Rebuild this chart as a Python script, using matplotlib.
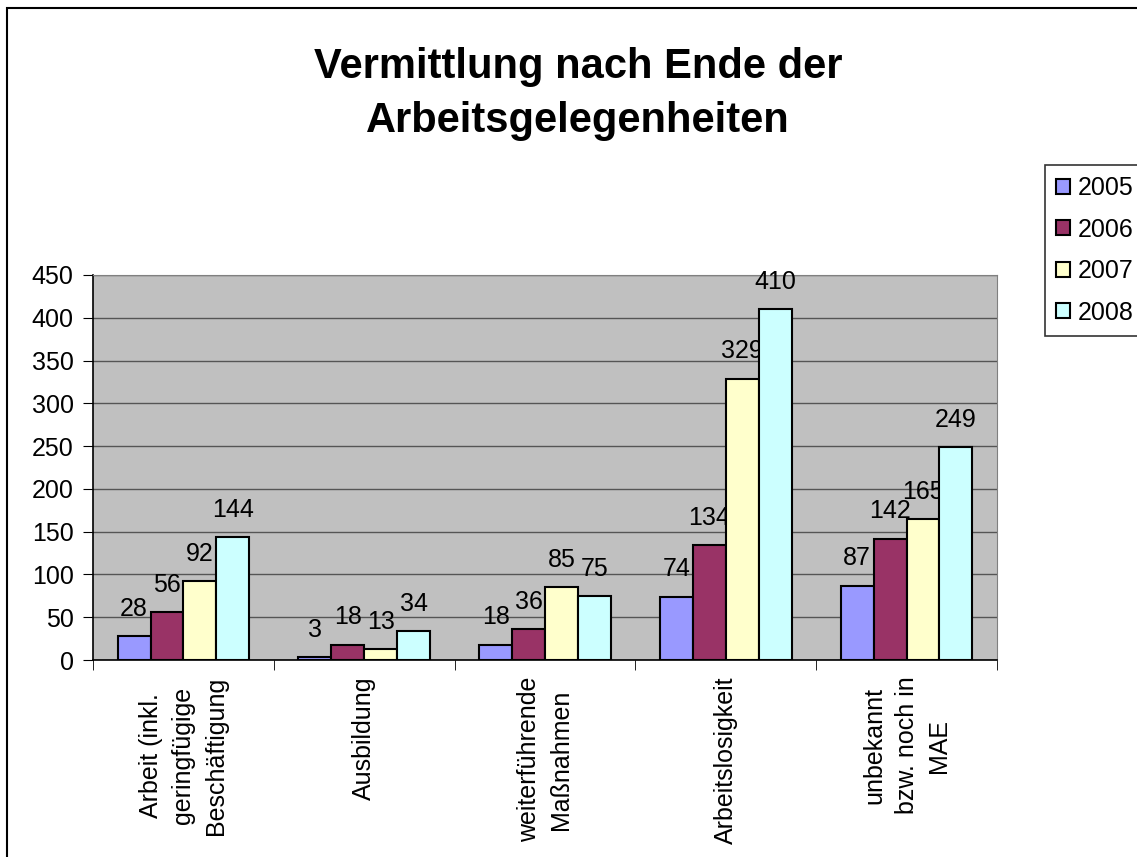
import numpy as np
import matplotlib.pyplot as plt
from matplotlib.patches import Rectangle

plt.rcParams['font.family'] = ['Liberation Sans', 'DejaVu Sans']

categories = ['Arbeit (inkl.\ngeringfügige\nBeschäftigung', 'Ausbildung',
              'weiterführende\nMaßnahmen', 'Arbeitslosigkeit',
              'unbekannt\nbzw. noch in\nMAE']
years = ['2005', '2006', '2007', '2008']
v2005 = [28, 3, 18, 74, 87]
v2006 = [56, 18, 36, 134, 142]
v2007 = [92, 13, 85, 329, 165]
v2008 = [144, 34, 75, 410, 249]
series = [v2005, v2006, v2007, v2008]
colors = ['#9999FF', '#993366', '#FFFFCC', '#CCFFFF']

W, H = 1137, 857
fig = plt.figure(figsize=(W / 100, H / 100), dpi=100)
ax = fig.add_axes([93 / W, 1 - 660 / H, (997 - 93) / W, (660 - 275) / H])

# outer chart frame (right/bottom cut off in the original)
fig.patches.append(Rectangle((7 / W, -0.1), 1.2, 1 - 8 / H + 0.1,
                             transform=fig.transFigure, fill=False,
                             edgecolor='black', linewidth=1.5))

x = np.arange(len(categories))
bw = 1 / 5.5
for i, (vals, c, yr) in enumerate(zip(series, colors, years)):
    pos = x - 2 * bw + (i + 0.5) * bw
    bars = ax.bar(pos, vals, bw, color=c, edgecolor='black', linewidth=1.5,
                  label=yr, zorder=3)
    for b, v in zip(bars, vals):
        ax.annotate(str(v), (b.get_x() + b.get_width() / 2, v),
                    xytext=(0, 11), textcoords='offset points',
                    ha='center', va='bottom', fontsize=18)

ax.set_facecolor('#C0C0C0')
ax.set_xlim(-0.5, len(categories) - 0.5)
ax.set_ylim(0, 450)
ax.set_yticks(range(0, 451, 50))
ax.yaxis.grid(True, color='#555555', linewidth=1, zorder=0)
ax.set_axisbelow(True)
ax.tick_params(axis='y', labelsize=18, length=7, direction='out', pad=7)

ax.set_xticks(x)
ax.set_xticklabels(categories, rotation=90, fontsize=18, ha='center',
                   va='top', multialignment='center', linespacing=1.45)
ax.tick_params(axis='x', which='major', length=0, pad=12)
ax.set_xticks(np.arange(-0.5, len(categories)), minor=True)
ax.tick_params(axis='x', which='minor', length=7, direction='out')

for s in ['top', 'right']:
    ax.spines[s].set_color('#808080')
for s in ['left', 'bottom']:
    ax.spines[s].set_color('black')
    ax.spines[s].set_linewidth(1.2)

fig.text(578 / W, 1 - 94 / H, 'Vermittlung nach Ende der\nArbeitsgelegenheiten',
         ha='center', va='center', fontsize=30, fontweight='bold',
         linespacing=1.45)

leg = fig.legend(loc='upper left', bbox_to_anchor=(1045 / W, 1 - 165 / H),
                 fontsize=18, frameon=True, fancybox=False, edgecolor='black',
                 handlelength=0.55, handleheight=0.55, handletextpad=0.3,
                 labelspacing=0.7, borderpad=0.45, borderaxespad=0)
leg.get_frame().set_linewidth(1.2)

fig.savefig('out.png', dpi=100)
